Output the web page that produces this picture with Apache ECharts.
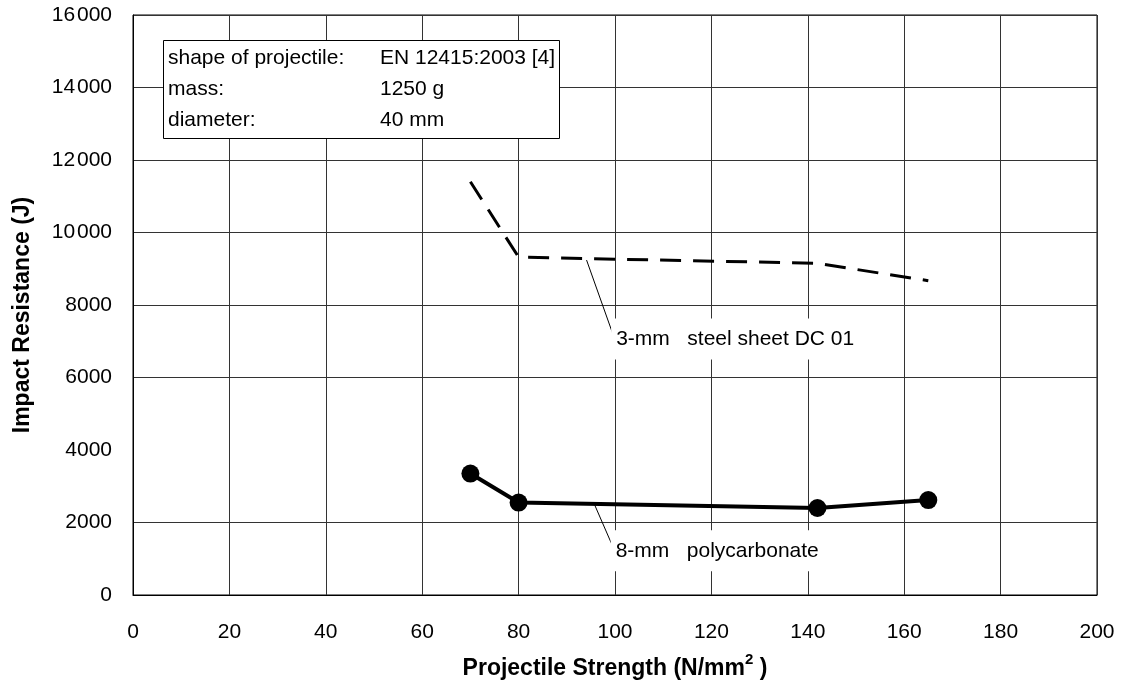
<!DOCTYPE html>
<html>
<head>
<meta charset="utf-8">
<script src="https://cdn.jsdelivr.net/npm/echarts@6/dist/echarts.min.js"></script>
<style>
  html, body { margin: 0; padding: 0; background: #fff; }
  #chart { width: 1122px; height: 690px; }
</style>
</head>
<body>
<div id="chart"></div>
<script>
  // values
  var strengthPc = [70, 80, 142, 165];
  var impactPc = [3350, 2550, 2400, 2620];
  var strengthSteel = [70, 80, 142, 165];
  var impactSteel = [11400, 9320, 9150, 8670];

  var xTicks = { min: 0, max: 200, step: 20 };
  var yTicks = { min: 0, max: 16000, step: 2000 };

  var steelLabel = '3-mm   steel sheet DC 01';
  var pcLabel = '8-mm   polycarbonate';
  // leader line: point on the curve -> label corner (data units)
  var steelLeader = [[94.1, 9240], [99.5, 7220]];
  var pcLeader = [[95.8, 2480], [99.4, 1380]];

  var infoRows = [
    ['shape of projectile:', 'EN 12415:2003 [4]'],
    ['mass:', '1250 g'],
    ['diameter:', '40 mm']
  ];

  var FONT = '"Liberation Sans", Arial, Helvetica, sans-serif';
  var FS = 21;

  function pairs(xs, ys) {
    var out = [];
    xs.forEach(function (x, i) { out.push([x, ys[i]]); });
    return out;
  }

  /* 4000 line is missing in the original */
  function yGridColors() {
    var c = [];
    for (var v = yTicks.min; v <= yTicks.max; v += yTicks.step) {
      c.push(v === 4000 ? 'rgba(0,0,0,0)' : '#333');
    }
    return c;
  }

  /* 5-digit values get a small gap: 16 000 */
  function yLabel(v) {
    var s = String(v);
    if (s.length > 4) {
      s = s.slice(0, s.length - 3) + '\u200A' + s.slice(s.length - 3);
    }
    return s;
  }

  function annotation(text, leader) {
    return {
      markLine: {
        silent: true,
        symbol: ['none', 'none'],
        lineStyle: { color: '#000', width: 1, type: 'solid' },
        label: { show: false },
        data: [[{ coord: leader[0] }, { coord: leader[1] }]]
      },
      markPoint: {
        silent: true,
        symbol: 'circle',
        symbolSize: 0,
        data: [{ coord: [leader[1][0] - 0.3, leader[1][1] - 160] }],
        label: {
          show: true,
          position: 'right',
          distance: 0,
          formatter: text,
          color: '#000',
          fontSize: FS,
          fontFamily: FONT,
          backgroundColor: '#fff',
          padding: [10, 0, 10, 5]
        }
      }
    };
  }

  var infoText = infoRows.map(function (r) {
    return '{k|' + r[0] + '}{v|' + r[1] + '}';
  }).join('\n');

  var steelSeries = Object.assign({
    name: 'steel',
    type: 'line',
    data: pairs(strengthSteel, impactSteel),
    symbol: 'none',
    lineStyle: { color: '#000', width: 3, type: [21, 12] },
    z: 3
  }, annotation(steelLabel, steelLeader));

  var pcSeries = Object.assign({
    name: 'pc',
    type: 'line',
    data: pairs(strengthPc, impactPc),
    symbol: 'circle',
    symbolSize: 18,
    itemStyle: { color: '#000' },
    lineStyle: { color: '#000', width: 4 },
    z: 3
  }, annotation(pcLabel, pcLeader));

  var option = {
    animation: false,
    backgroundColor: '#fff',
    textStyle: { fontFamily: FONT },
    title: {
      show: true,
      left: 163,
      top: 40,
      padding: [3, 5, 3, 5],
      backgroundColor: '#fff',
      borderColor: '#000',
      borderWidth: 1,
      text: infoText,
      textStyle: {
        fontWeight: 'normal',
        fontSize: FS,
        color: '#000',
        lineHeight: 31,
        rich: {
          k: { width: 212, fontSize: FS, color: '#000', fontFamily: FONT, lineHeight: 31 },
          v: { fontSize: FS, color: '#000', fontFamily: FONT, lineHeight: 31 }
        }
      }
    },
    grid: {
      left: 133,
      right: 25,
      top: 15,
      bottom: 95,
      show: true,
      borderColor: '#000',
      borderWidth: 1,
      containLabel: false,
      outerBoundsMode: 'none'
    },
    xAxis: {
      type: 'value',
      min: xTicks.min,
      max: xTicks.max,
      interval: xTicks.step,
      name: '{a|Projectile Strength (N/mm}{s|2}{a| )}',
      nameLocation: 'middle',
      nameGap: 57,
      nameTextStyle: {
        rich: {
          a: { fontSize: 23, fontWeight: 'bold', color: '#000', fontFamily: FONT },
          s: { fontSize: 15, fontWeight: 'bold', color: '#000', fontFamily: FONT, padding: [0, 0, 18, 0] }
        }
      },
      axisLine: { show: true, lineStyle: { color: '#000', width: 1 } },
      axisTick: { show: false },
      axisLabel: { fontSize: FS, color: '#000', margin: 27, fontFamily: FONT },
      splitLine: { show: true, lineStyle: { color: '#333', width: 1 } }
    },
    yAxis: {
      type: 'value',
      min: yTicks.min,
      max: yTicks.max,
      interval: yTicks.step,
      name: 'Impact Resistance (J)',
      nameLocation: 'middle',
      nameGap: 99,
      nameTextStyle: {
        fontSize: 23, fontWeight: 'bold', color: '#000', fontFamily: FONT,
        padding: [0, 20, 0, 0]
      },
      axisLine: { show: true, lineStyle: { color: '#000', width: 1 } },
      axisTick: { show: false },
      axisLabel: {
        fontSize: FS, color: '#000', margin: 21, fontFamily: FONT,
        formatter: yLabel
      },
      splitLine: { show: true, lineStyle: { color: yGridColors(), width: 1 } }
    },
    series: [steelSeries, pcSeries]
  };

  var chart = echarts.init(document.getElementById('chart'), null, { renderer: 'canvas' });
  chart.setOption(option);
</script>
</body>
</html>
